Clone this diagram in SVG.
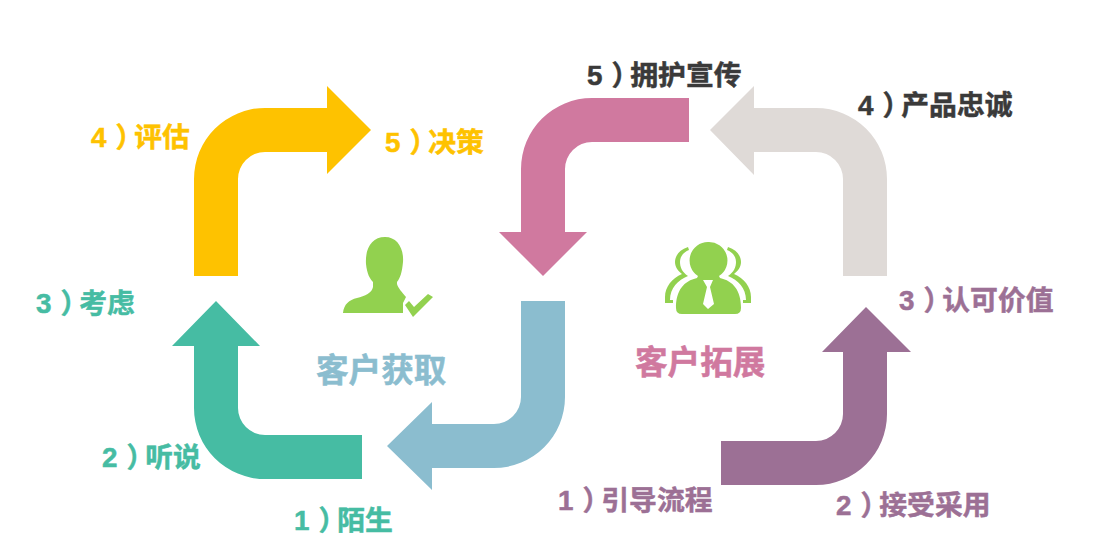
<svg xmlns="http://www.w3.org/2000/svg" width="1102" height="558" viewBox="0 0 1102 558">
<style>
text{font-family:"Liberation Sans","Noto Sans CJK SC",sans-serif;font-weight:700;stroke-width:.5px}
.l{font-size:27.8px}
.t{font-size:32.6px}
.teal{fill:#46bca3}.yel{fill:#fec200}.blue{fill:#8bbdcf}.pink{fill:#d0799f}.grey{fill:#dfdad7}.pur{fill:#9c7095}.grn{fill:#92d14f}.dark{fill:#3a3a3a}
text.teal{stroke:#46bca3}text.yel{stroke:#fec200}text.blue{stroke:#8bbdcf}text.pink{stroke:#d0799f}text.pur{stroke:#9c7095}text.dark{stroke:#3a3a3a}
</style>
<rect width="1102" height="558" fill="#fff"/>
<g id="connectors">
<path class="yel" d="M194 276V179A71 71 0 0 1 265 108H327V86L371 130L327 174V152H265A27 27 0 0 0 238 179V276Z"/>
<path class="teal" d="M362 479H265A71 71 0 0 1 194 408V346H172L216 301L260 346H238V408A27 27 0 0 0 265 435H362Z"/>
<path class="blue" d="M565 301V397A71 71 0 0 1 494 468H432V490L387 446L432 402V424H494A27 27 0 0 0 521 397V301Z"/>
<path class="pink" d="M689 98V142H592A27 27 0 0 0 565 169V232H587L543 276L499 232H521V169A71 71 0 0 1 592 98Z"/>
<path class="grey" d="M843 276V179A27 27 0 0 0 816 152H754V175L710 130L754 86V108H816A71 71 0 0 1 887 179V276Z"/>
<path class="pur" d="M721 485V441H816A27 27 0 0 0 843 414V352H822L866 307L911 352H887V414A71 71 0 0 1 816 485Z"/>
</g>
<g id="node-acquire">
<path class="grn" d="M343 313C344 304 349 300 357 298C365 296 372 293 373 287V282C370 279 367 274 366 264C365 248 372 237 385 237C397 237 404 248 403 262C402 273 400 278 397 282V284C398 288 402 292 406 297L403 303V313Z"/>
<path class="grn" d="M405 305L409 301L414 307L428 294L433 297L413 317Z"/>
<text class="t blue" x="316" y="382">客户获取</text>
</g>
<g id="node-expand">
<path class="grn" d="M708 242A18.500 18.500 0 0 1 719 276L720 278C733 281 741 290 741 308Q741 314 735 314H682Q676 314 676 308C676 290 684 281 697 278L698 276A18.500 18.500 0 0 1 708 242Z"/>
<path d="M703 280H713L710 287L714 304L708 309L703 304L707 287Z" fill="#fff"/>
<path id="side" class="grn" d="M688 247C679 250 675 256 675 262C675 267 678 271 682 274C672 278 665 287 665 297V303H673V300H670C670 288 678 280 688 276C682 272 680 267 680 262C680 256 684 252 689 250Z"/>
<path class="grn" transform="translate(1416 0) scale(-1 1)" d="M688 247C679 250 675 256 675 262C675 267 678 271 682 274C672 278 665 287 665 297V303H673V300H670C670 288 678 280 688 276C682 272 680 267 680 262C680 256 684 252 689 250Z"/>
<text class="t pink" x="635" y="374">客户拓展</text>
</g>
<g id="labels">
<text class="l teal" x="294" y="530" dx="0 9 -9">1）陌生</text>
<text class="l teal" x="102" y="467" dx="0 9 -9">2）听说</text>
<text class="l teal" x="36" y="313" dx="0 9 -9">3）考虑</text>
<text class="l yel" x="91" y="147" dx="0 9 -9">4）评估</text>
<text class="l yel" x="385" y="152" dx="0 9 -9">5）决策</text>
<text class="l pur" x="558" y="510" dx="0 9 -9">1）引导流程</text>
<text class="l pur" x="836" y="515" dx="0 9 -9">2）接受采用</text>
<text class="l pur" x="899" y="310" dx="0 9 -9">3）认可价值</text>
<text class="l dark" x="858" y="115" dx="0 9 -9">4）产品忠诚</text>
<text class="l dark" x="587" y="85" dx="0 9 -9">5）拥护宣传</text>
</g>
</svg>
